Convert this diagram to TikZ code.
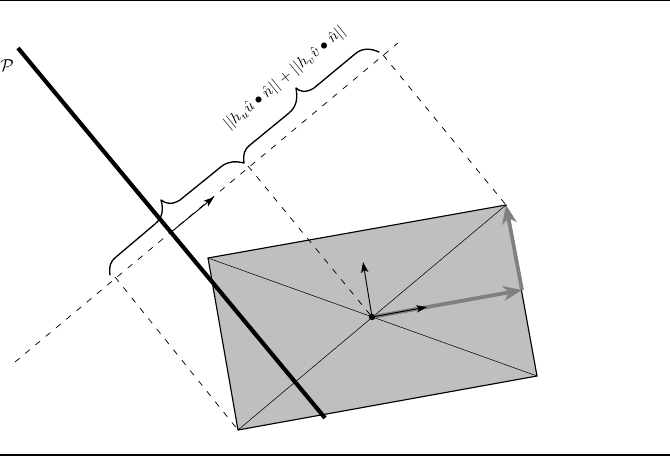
\documentclass[tikz,border=0pt]{standalone}
\usepackage{amsmath,amssymb}
\usetikzlibrary{arrows.meta}
\tikzset{
  dashline/.style={line width=0.55pt,dash pattern=on 4.5pt off 5.5pt},
  thinline/.style={line width=0.4pt},
  edgeline/.style={line width=0.85pt},
  blackarrow/.style={line width=0.7pt,-{Stealth[length=8pt,width=5.5pt,inset=2pt]}},
  grayarrow/.style={line width=2.8pt,draw=black!50,-{Stealth[length=14pt,width=11pt,inset=4pt]}},
  bracecurve/.style={line width=1pt,line cap=round,line join=round},
  plane/.style={line width=3.1pt}
}
\begin{document}
\begin{tikzpicture}[x=0.75pt,y=-0.75pt]
\useasboundingbox (0,0) rectangle (670,456);
\coordinate (A) at (208,258);
\coordinate (B) at (506,205);
\coordinate (C) at (537,376);
\coordinate (D) at (238,430);
\coordinate (O) at (372,317);
\coordinate (R) at (522,290);
\coordinate (U) at (427,307);
\coordinate (V) at (363,262);
\coordinate (L1) at (15,362);
\coordinate (L2) at (398,43);
\coordinate (Pa) at (115,277);
\coordinate (Pb) at (248,166);
\coordinate (Pc) at (383,55);
\coordinate (Ns) at (170,233);
\coordinate (Ne) at (214,197);
\coordinate (Pl1) at (18,48);
\coordinate (Pl2) at (325,418);
% rules
\draw[line width=1pt] (0,0.6) -- (670,0.6);
\draw[line width=1pt] (0,455) -- (670,455);
% rectangle
\draw[edgeline,fill=black!25] (A) -- (B) -- (C) -- (D) -- cycle;
\draw[thinline] (A) -- (C);
\draw[thinline] (D) -- (B);
% dashed
\draw[dashline] (L1) -- (L2);
\draw[dashline] (Pa) -- (D);
\draw[dashline] (Pb) -- (O);
\draw[dashline] (Pc) -- (B);
% gray arrows
\draw[grayarrow] (O) -- (R);
\draw[grayarrow] (R) -- (B);
% black arrows
\draw[blackarrow] (O) -- (U);
\draw[blackarrow] (O) -- (V);
\draw[blackarrow] (Ns) -- (Ne);
\fill (O) circle (3.2);
% plane
\draw[plane] (Pl1) -- (Pl2);
% braces
\draw[bracecurve] (110,275) .. controls (109,266) and (110,262) .. (116,257)
  -- (155,224) .. controls (162,218) and (164,211) .. (161,200)
  .. controls (166,204) and (172,205) .. (180,200)
  -- (222,166) .. controls (229,161) and (236,161) .. (244,163);
\draw[bracecurve] (244,163) .. controls (243,154) and (244,150) .. (250,145)
  -- (289,113) .. controls (296,107) and (298,100) .. (296,88)
  .. controls (300,92) and (306,93) .. (314,88)
  -- (355,54) .. controls (362,48) and (370,48) .. (379,52);
% labels
\node[rotate=39.5,inner sep=0pt,scale=1.17] (lab) at (285,78) {$||h_u\hat{u}\bullet\hat{n}||+||h_v\hat{v}\bullet\hat{n}||$};
\node[inner sep=0pt,scale=1.3] (planelab) at (7,66) {$\mathcal{P}$};
\end{tikzpicture}
\end{document}
